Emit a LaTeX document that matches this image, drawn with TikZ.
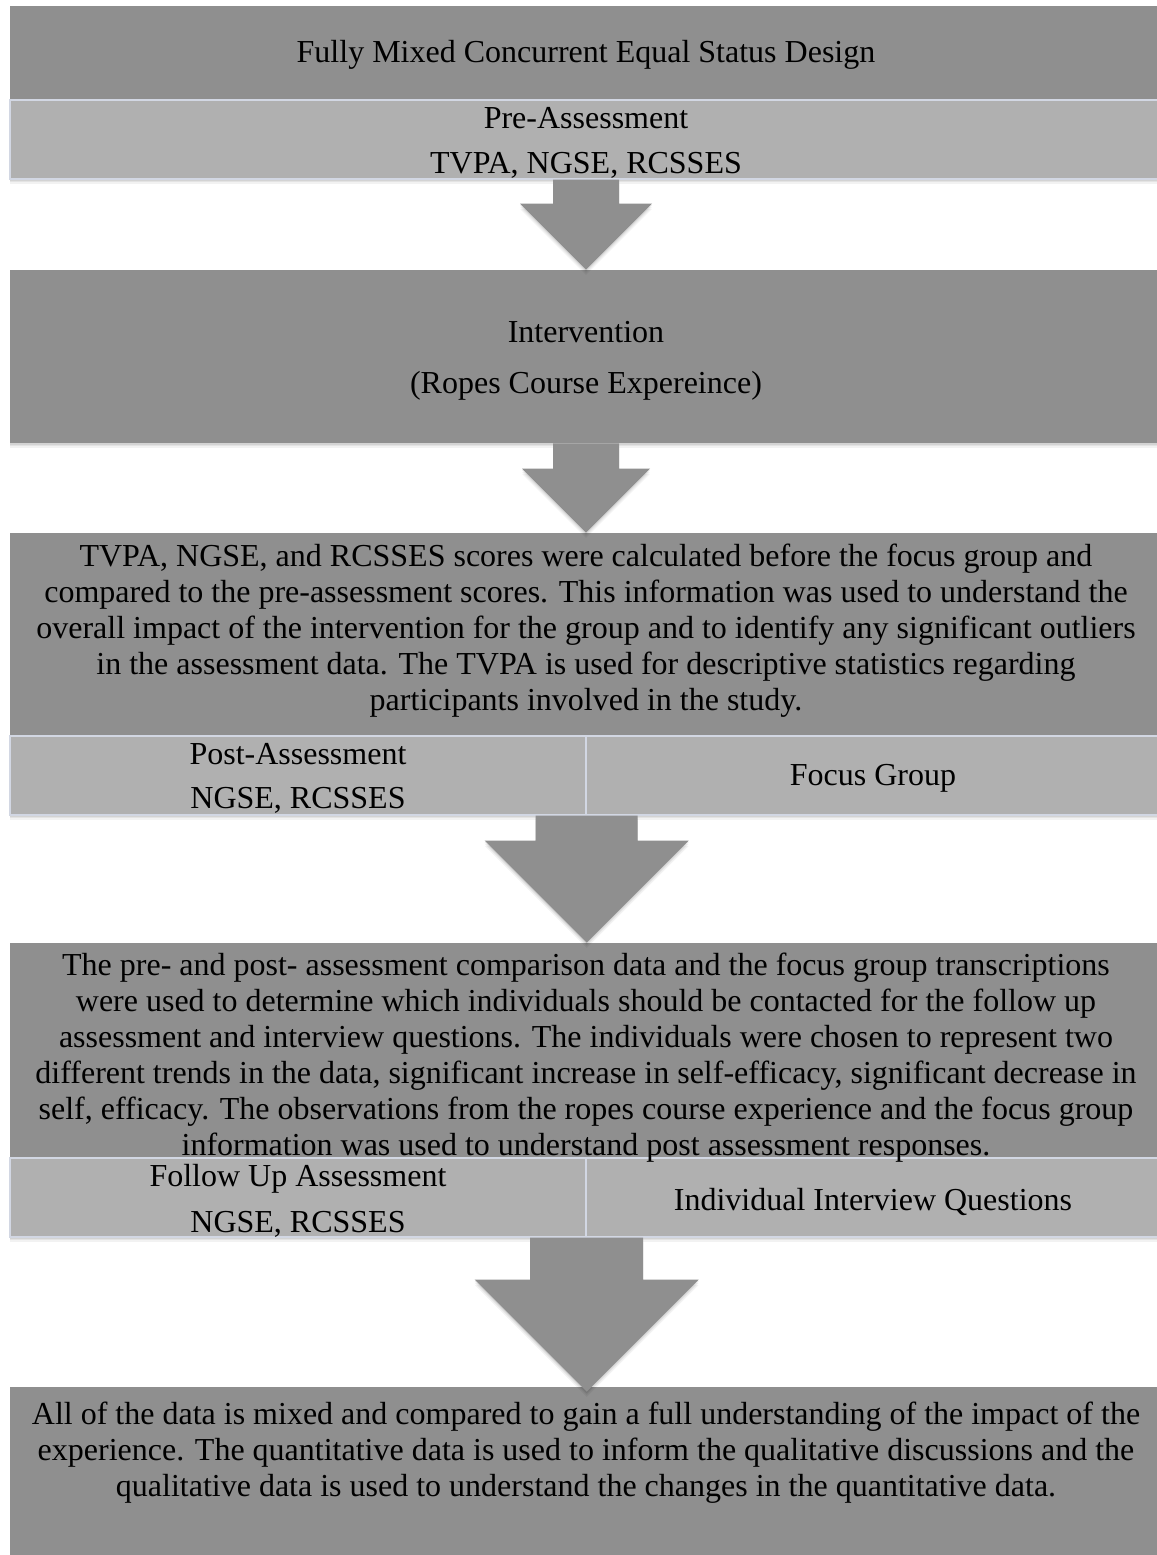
\documentclass[tikz,border=0pt]{standalone}
\usepackage{fontspec}
\setmainfont{Liberation Serif}
\usetikzlibrary{calc,fit}
\definecolor{darkfill}{HTML}{8F8F8F}
\definecolor{lightfill}{HTML}{B0B0B0}
\definecolor{sepline}{HTML}{D2D7E3}
\tikzset{
  shadowed/.style={
    preaction={fill=black,opacity=0.07,transform canvas={yshift=-0.8pt}},
    preaction={fill=black,opacity=0.06,transform canvas={yshift=-1.6pt}},
    preaction={fill=black,opacity=0.05,transform canvas={yshift=-2.6pt}}},
  darkbox/.style={fill=darkfill, inner sep=0pt, shadowed},
  lightbox/.style={fill=lightfill, draw=sepline, line width=0.7pt, inner sep=0pt, shadowed},
  txt/.style={align=center, inner sep=0pt, font=\fontsize{16}{18}\selectfont},
  arrowfill/.style={fill=darkfill, shadowed}
}
\newcommand{\flowarrow}[4]{%
  \fill[arrowfill] ($(#1)+(-#3,0)$) -- ($(#1)+(#3,0)$) -- ($(#2)+(#3,-#4)$)
    -- ($(#2)+(#4,-#4)$) -- (#2) -- ($(#2)+(-#4,-#4)$) -- ($(#2)+(-#3,-#4)$) -- cycle;}
\begin{document}
\begin{tikzpicture}[x=0.5pt,y=-0.5pt]
\useasboundingbox (0,0) rectangle (1157,1555);
\fill[white] (0,0) rectangle (1157,1555);

% Box 1
\node[darkbox, fit={(10,6) (1157,99)}] (b1) {};
\node[lightbox, fit={(10,100) (1160,179)}] (s1) {};
% Box 2
\node[darkbox, fit={(10,270) (1157,443)}] (b2) {};
% Box 3
\node[darkbox, fit={(10,533) (1157,735)}] (b3) {};
\node[lightbox, fit={(10,736) (586,815)}] (s3l) {};
\node[lightbox, fit={(586,736) (1160,815)}] (s3r) {};
% Box 4
\node[darkbox, fit={(10,943) (1157,1157)}] (b4) {};
\node[lightbox, fit={(10,1158) (586,1237)}] (s4l) {};
\node[lightbox, fit={(586,1158) (1160,1237)}] (s4r) {};
% Box 5
\node[darkbox, fit={(10,1387) (1157,1560)}] (b5) {};

% Arrows
\coordinate (a1s) at (586,179.5);
\coordinate (a1t) at (a1s |- b2.north);
\flowarrow{a1s}{a1t}{33}{66}
\coordinate (a2s) at (a1s |- b2.south);
\coordinate (a2t) at (a2s |- b3.north);
\flowarrow{a2s}{a2t}{33}{64}
\coordinate (a3s) at (s3l.south east);
\coordinate (a3t) at (a3s |- b4.north);
\flowarrow{a3s}{a3t}{51}{102}
\coordinate (a4s) at (s4l.south east);
\coordinate (a4t) at ($(a4s |- b5.north)+(0,5)$);
\flowarrow{a4s}{a4t}{56.5}{112}

% Texts
\node[txt] (t1) at (586,55) {Fully Mixed Concurrent Equal Status Design};
\node[txt] (t1s) at (586,143) {Pre-Assessment\\[4.8pt]TVPA, NGSE, RCSSES};
\node[txt] (t2) at (586,361) {Intervention\\[7.3pt](Ropes Course Expereince)};
\node[txt] (t3) at (586,631) {TVPA, NGSE, and RCSSES scores were calculated before the focus group and\\
compared to the pre-assessment scores. This information was used to understand the\\
overall impact of the intervention for the group and to identify any significant outliers\\
in the assessment data. The TVPA is used for descriptive statistics regarding\\
participants involved in the study.};
\node[txt] (t3l) at (298,778) {Post-Assessment\\[4pt]NGSE, RCSSES};
\node[txt] (t3r) at (873,778) {Focus Group};
\node[txt] (t4) at (586,1058) {The pre- and post- assessment comparison data and the focus group transcriptions\\
were used to determine which individuals should be contacted for the follow up\\
assessment and interview questions. The individuals were chosen to represent two\\
different trends in the data, significant increase in self-efficacy, significant decrease in\\
self, efficacy. The observations from the ropes course experience and the focus group\\
information was used to understand post assessment responses.};
\node[txt] (t4l) at (298,1201) {Follow Up Assessment\\[5.3pt]NGSE, RCSSES};
\node[txt] (t4r) at (873,1202) {Individual Interview Questions};
\node[txt] (t5) at (586,1453) {All of the data is mixed and compared to gain a full understanding of the impact of the\\
experience. The quantitative data is used to inform the qualitative discussions and the\\
qualitative data is used to understand the changes in the quantitative data.};
\end{tikzpicture}
\end{document}
